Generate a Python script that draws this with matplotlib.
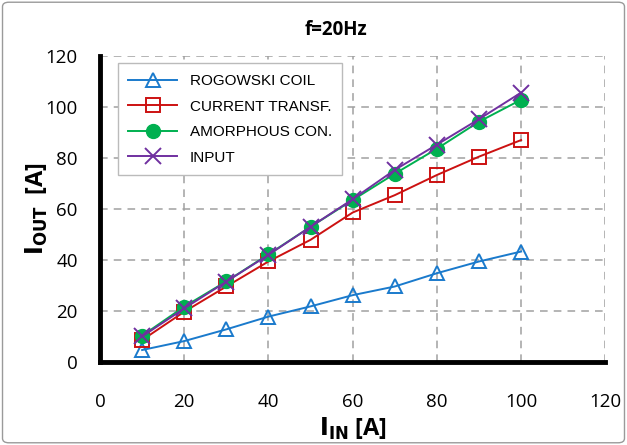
import matplotlib.pyplot as plt
from matplotlib.patches import FancyBboxPatch

i_in = [10, 20, 30, 40, 50, 60, 70, 80, 90, 100]
rogowski = [4.7, 8.2, 12.8, 17.8, 21.8, 26.2, 29.6, 34.8, 39.4, 43.3]
current_tr = [8.6, 19.7, 29.6, 39.4, 47.9, 58.6, 65.4, 73.3, 80.5, 87.0]
amorphous = [10.3, 21.7, 31.6, 42.2, 53.0, 63.5, 73.8, 83.6, 94.2, 102.8]
input_ref = [10.0, 21.0, 31.5, 42.0, 53.0, 63.8, 75.3, 85.2, 95.2, 105.6]

x_ticks = [0, 20, 40, 60, 80, 100, 120]
y_ticks = [0, 20, 40, 60, 80, 100, 120]

fig = plt.figure(figsize=(6.27, 4.45), dpi=100)
ax = fig.add_axes([0.1595, 0.1865, 0.806, 0.688])

ax.plot(i_in, rogowski, color='#1a7acc', marker='^', ms=10, mfc='none',
        mew=1.4, lw=1.4, label='ROGOWSKI COIL')
ax.plot(i_in, current_tr, color='#cc1111', marker='s', ms=10, mfc='none',
        mew=1.4, lw=1.4, label='CURRENT TRANSF.')
ax.plot(i_in, amorphous, color='#00b050', marker='o', ms=10, lw=1.4,
        label='AMORPHOUS CON.')
ax.plot(i_in, input_ref, color='#7030a0', marker='x', ms=11, mew=1.4,
        lw=1.4, label='INPUT')

ax.set_xlim(0, 120)
ax.set_ylim(0, 120)
ax.set_xticks(x_ticks)
ax.set_yticks(y_ticks)
ax.grid(True, ls=(0, (5, 4)), color='#a0a0a0', lw=1.1)
ax.tick_params(length=0, labelsize=13.5)
ax.tick_params(axis='x', pad=22)
ax.tick_params(axis='y', pad=16)
for lbl in ax.get_xticklabels() + ax.get_yticklabels():
    lbl.set_fontfamily('Open Sans')

for side in ['top', 'right']:
    ax.spines[side].set_visible(False)
for side in ['left', 'bottom']:
    ax.spines[side].set_linewidth(3.5)
    ax.spines[side].set_color('black')

ax.set_xlabel(r'$\mathbf{I_{IN}}$ [A]', fontsize=17, fontweight='bold',
              family='Open Sans', labelpad=4)
ax.set_ylabel(r'$\mathbf{I_{OUT}}$  [A]', fontsize=17, fontweight='bold',
              family='Open Sans', labelpad=-3)
fig.text(0.536, 0.932, 'f=20Hz', ha='center', va='center', fontsize=13.5,
         fontweight='bold', family='Open Sans')

leg = ax.legend(loc='upper left', bbox_to_anchor=(0.02, 1.0),
                prop={'family': 'Liberation Sans', 'size': 11},
                fancybox=False, edgecolor='#bbbbbb', framealpha=1,
                borderpad=0.7, labelspacing=0.75, handlelength=3.2)

fig.patches.append(FancyBboxPatch((0.004, 0.005), 0.992, 0.99,
                                  boxstyle='round,pad=0,rounding_size=0.01',
                                  transform=fig.transFigure, fill=False,
                                  edgecolor='#9a9a9a', lw=1))

fig.savefig('out.png', dpi=100)
